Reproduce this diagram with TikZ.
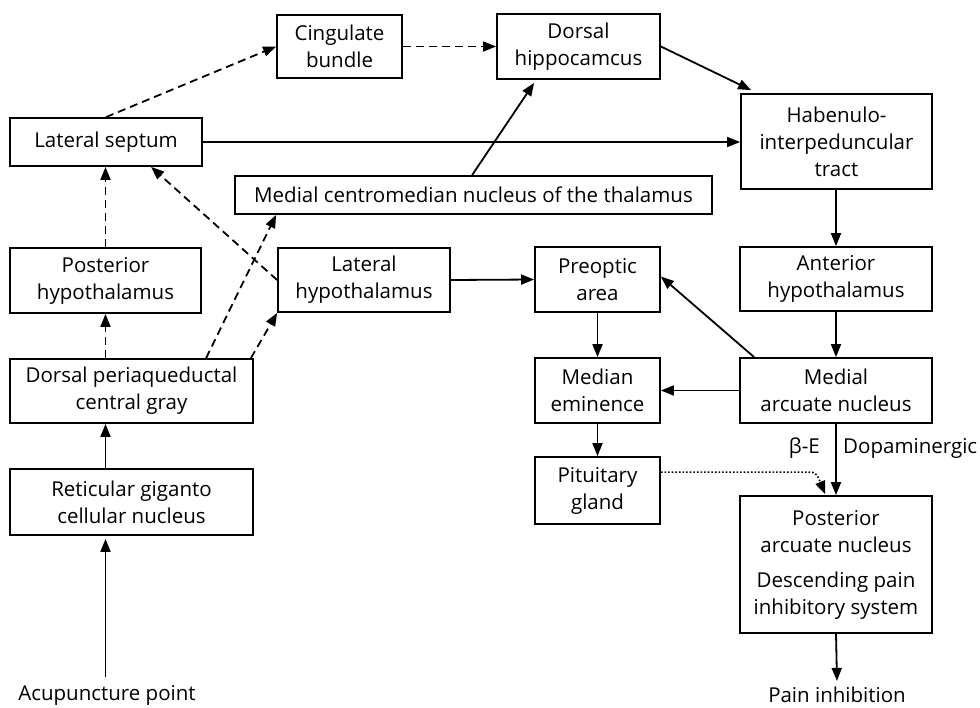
\documentclass[tikz,border=0pt]{standalone}
\usepackage{fontspec}
\setmainfont{Open Sans}
\usetikzlibrary{arrows.meta,calc}
\begin{document}
\begin{tikzpicture}[x=1pt,y=-1pt,
  box/.style={draw,line width=1.8pt,inner sep=0pt,align=center,font=\fontsize{20.5}{27}\selectfont},
  lbl/.style={inner sep=0pt,font=\fontsize{20.5}{27}\selectfont},
  arr/.style={line width=1.8pt,-{Triangle[length=13pt,width=10pt]}},
  dsh/.style={arr,dash pattern=on 8pt off 5pt},
  dtd/.style={arr,dash pattern=on 1.6pt off 2pt,line width=1.6pt}]
\useasboundingbox (0,0) rectangle (980,707);
% boxes
\node[box,minimum width=125pt,minimum height=63pt] (cb) at (339.5,46.5) {Cingulate\\bundle};
\node[box,minimum width=163pt,minimum height=65pt] (dh) at (578.5,46.5) {Dorsal\\hippocamcus};
\node[box,minimum width=192pt,minimum height=48pt] (ls) at (106,142) {Lateral septum};
\node[box,minimum width=477pt,minimum height=38pt] (mcm) at (473.5,195) {Medial centromedian nucleus of the thalamus};
\node[box,minimum width=191pt,minimum height=95pt] (hab) at (836.5,141.5) {Habenulo-\\interpeduncular\\tract};
\node[box,minimum width=191pt,minimum height=65pt] (ph) at (105.5,280.5) {Posterior\\hypothalamus};
\node[box,minimum width=172pt,minimum height=64pt] (lh) at (364,280) {Lateral\\hypothalamus};
\node[box,minimum width=243pt,minimum height=64pt] (dpag) at (131.5,391) {Dorsal periaqueductal\\central gray};
\node[box,minimum width=125pt,minimum height=65pt] (poa) at (597.5,279.5) {Preoptic\\area};
\node[box,minimum width=192pt,minimum height=64pt] (ah) at (836,279) {Anterior\\hypothalamus};
\node[box,minimum width=125pt,minimum height=65pt] (me) at (597.5,390.5) {Median\\eminence};
\node[box,minimum width=192pt,minimum height=65pt] (ma) at (836,390.5) {Medial\\arcuate nucleus};
\node[box,minimum width=243pt,minimum height=66pt] (rg) at (131.5,502) {Reticular giganto\\cellular nucleus};
\node[box,minimum width=125pt,minimum height=67pt] (pit) at (597.5,490.5) {Pituitary\\gland};
\node[box,minimum width=192pt,minimum height=137pt] (pa) at (836,564.5) {Posterior\\arcuate nucleus\\[8pt]Descending pain\\inhibitory system};
\node[lbl] (acu) at (107,695) {Acupuncture point};
\node[lbl] (pain) at (837,695) {Pain inhibition};
\node[lbl,anchor=east] (be) at (820,448) {β-E};
\node[lbl,anchor=west] (dop) at (843,448) {Dopaminergic};
% helper coordinates
\coordinate (lsx) at ($(ls.south west)+(142,0)$);
\coordinate (dpag1) at ($(dpag.north west)+(197,0)$);
\coordinate (dpag2) at ($(dpag.north east)+(-3,0)$);
\coordinate (mcm1) at ($(mcm.south west)+(42,0)$);
\coordinate (mcm2) at ($(mcm.north west)+(238,0)$);
\coordinate (habin) at ($(hab.north west)+(11,-3)$);
\coordinate (ma1) at ($(ma.north west)+(15,0)$);
\coordinate (pit1) at ($(pit.north east)+(0,16)$);
\coordinate (pit2) at ($(pa.north west)+(65,-23)$);
\coordinate (pa1) at ($(pa.north west)+(86,-1)$);
% connectors
\draw[arr] ($(acu.north -| ph.south)+(0,-8)$) -- ($(rg.south -| ph.south)+(0,3)$);
\draw[arr] (rg.north -| ph.south) -- (dpag.south -| ph.south);
\draw[dsh] (dpag.north -| ph.south) -- (ph.south);
\draw[dsh] (ph.north) -- (ls.south -| ph.north);
\draw[dsh] (ls.north) -- (cb.west);
\draw[dsh] (cb.east) -- (dh.west);
\draw[arr] (dh.east) -- (habin);
\draw[arr] (ls.east) -- (ls.east -| hab.west);
\draw[arr] (mcm2) -- ($(dh.south west)+(38,3)$);
\draw[dsh] (lh.west) -- (lsx);
\draw[dsh] (dpag1) -- (mcm1);
\draw[dsh] (dpag2) -- (lh.south west);
\draw[arr] (lh.east) -- (poa.west);
\draw[arr] (hab.south -| ah.north) -- (ah.north);
\draw[arr] (ah.south) -- (ma.north);
\draw[arr] (ma1) -- ($(poa.east)+(0,-3)$);
\draw[arr] (ma.west) -- (ma.west -| me.east);
\draw[arr] (poa.south) -- (me.north);
\draw[arr] (me.south) -- (pit.north);
\draw[arr] (ma.south) -- (pa.north);
\draw[dtd] (pit1) -- (pit2) .. controls ($(pit2)+(12,0)$) .. (pa1);
\draw[arr] (pa.south) -- ($(pain.north)+(0,-6)$);
\end{tikzpicture}
\end{document}
